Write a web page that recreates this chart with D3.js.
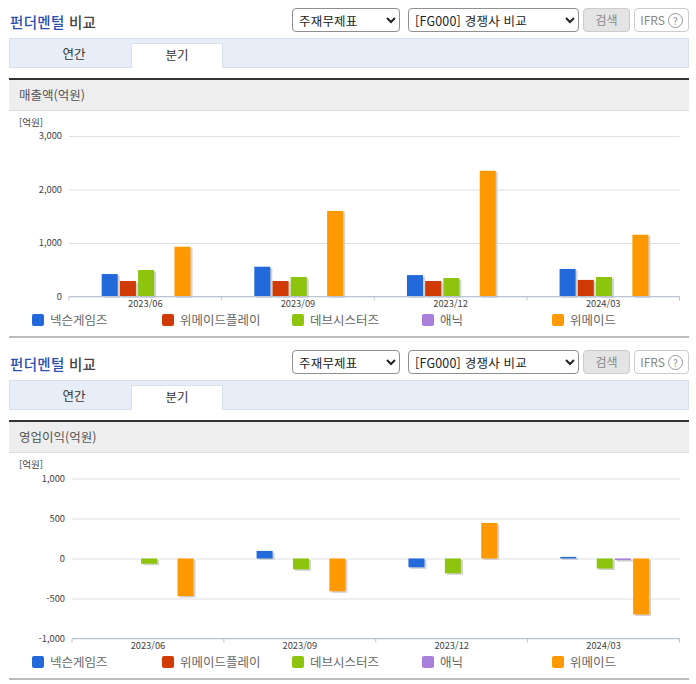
<!DOCTYPE html>
<html lang="ko">
<head>
<meta charset="utf-8" />
<title>펀더멘털 비교</title>
<script src="https://cdnjs.cloudflare.com/ajax/libs/d3/7.8.5/d3.min.js"></script>
<style>
    html, body { margin: 0; padding: 0; background: #fff; overflow: hidden; }
    body { width: 696px; height: 684px; position: relative; font-family: "Noto Sans CJK KR", sans-serif; color: #333; }
    .panel { position: absolute; left: 0; width: 696px; height: 342px; }
    .panel > * { position: absolute; box-sizing: border-box; }
    .title { left: 10px; top: 12px; font-size: 14.5px; line-height: 20px; font-weight: 500; color: #444; letter-spacing: 0.3px; }
    .title b { color: #2a50b0; font-weight: 500; }
    select { top: 8px; height: 24px; font-family: inherit; font-size: 12.5px; letter-spacing: 0.2px; color: #222; background: #fff; border: 1px solid #8f8f8f; border-radius: 4px; padding-left: 2px; }
    .btn { top: 8px; height: 24px; border: 1px solid #ccc; border-radius: 4px; font-size: 12px; line-height: 22px; text-align: center; color: #888; }
    .btn i { display: inline-block; width: 13px; height: 13px; margin-left: 3px; border: 1px solid #999; border-radius: 50%; font-style: normal; font-size: 10px; line-height: 13px; }
    .tabs { left: 9px; top: 38px; width: 680px; height: 30px; background: #e7eef8; border: 1px solid #d8e0ea; }
    .tab { top: 43px; height: 25px; font-size: 12.5px; line-height: 22px; text-align: center; color: #333; }
    .tab.on { background: #fff; border: 1px solid #d8e0ea; border-bottom: 0; }
    .head { left: 9px; top: 78px; width: 680px; height: 33px; background: #eee; border-top: 2px solid #333; border-bottom: 1px solid #ddd; font-size: 12.5px; line-height: 30px; padding-left: 10px; color: #555; }
    .foot { left: 9px; top: 336px; width: 680px; height: 2px; background: #bbb; }
    svg { left: 0; top: 0; }
    .axis text { font-family: "Noto Sans CJK KR", sans-serif; font-size: 9.3px; fill: #444; }
    .legend text { font-family: "Noto Sans CJK KR", sans-serif; font-size: 12.5px; fill: #666; }
</style>
</head>
<body>
<script>
    var categories = ["2023/06", "2023/09", "2023/12", "2024/03"];
    var seriesNames = ["넥슨게임즈", "위메이드플레이", "데브시스터즈", "애닉", "위메이드"];
    var seriesColors = ["#2269d9", "#d03a05", "#8cc40e", "#a97fdc", "#ff9900"];

    // 억원, per quarter, same order as categories
    var salesNexon = [420, 557, 400, 515];
    var salesPlay = [290, 290, 290, 310];
    var salesDev = [495, 365, 345, 365];
    var salesAnic = [null, null, null, null];
    var salesWemade = [930, 1600, 2350, 1155];

    var profitNexon = [null, 95, -110, 20];
    var profitPlay = [null, null, null, null];
    var profitDev = [-65, -135, -185, -125];
    var profitAnic = [null, null, null, -20];
    var profitWemade = [-470, -410, 445, -700];

    var salesTicks = [0, 1000, 2000, 3000];
    var profitTicks = [-1000, -500, 0, 500, 1000];
    var legendX = [32, 162, 292, 422, 552];

    function tickText(d) {
        return d3.format(",")(d).replace("−", "-");
    }

    function drawChrome(panel, label) {
        panel.append("div").attr("class", "title").html("<b>펀더멘털</b> 비교");
        panel.append("select").style("left", "292px").style("width", "108px")
            .append("option").text("주재무제표");
        panel.append("select").style("left", "408px").style("width", "171px")
            .append("option").text("[FG000] 경쟁사 비교");
        panel.append("div").attr("class", "btn").text("검색")
            .style("left", "583px").style("width", "47px").style("background", "#e4e4e4");
        panel.append("div").attr("class", "btn").html("IFRS<i>?</i>")
            .style("left", "634px").style("width", "55px");
        panel.append("div").attr("class", "tabs");
        panel.append("div").attr("class", "tab").text("연간").style("left", "29px").style("width", "90px");
        panel.append("div").attr("class", "tab on").text("분기").style("left", "131px").style("width", "92px");
        panel.append("div").attr("class", "head").text(label);
        panel.append("div").attr("class", "foot");
    }

    function drawChart(panel, values, ticks, left, right, top, bottom) {
        var svg = panel.append("svg").attr("width", 696).attr("height", 342);

        svg.append("text").attr("x", 19).attr("y", 126)
            .style("font-size", "9.5px").style("fill", "#444").text("[억원]");

        var x = d3.scaleBand().domain(categories).range([left, right]);
        var x1 = d3.scaleBand().domain(seriesNames).range([32.7, 121.5]).paddingInner(0.12);
        var y = d3.scaleLinear().domain(d3.extent(ticks)).range([bottom, top]);

        var yAxis = svg.append("g").attr("class", "axis")
            .attr("transform", "translate(" + left + ",0)")
            .call(d3.axisLeft(y).tickValues(ticks).tickFormat(tickText).tickSize(-(right - left)).tickPadding(7));
        yAxis.select(".domain").remove();
        yAxis.selectAll("line").attr("stroke", "#dcdfe4");

        seriesNames.forEach(function (name, s) {
            var rows = categories.map(function (c, i) { return { c: c, v: values[s][i] }; })
                .filter(function (r) { return r.v !== null; });
            var g = svg.append("g");
            function place(sel, dx, dy) {
                sel.attr("x", function (r) { return x(r.c) + x1(name) + dx; })
                    .attr("y", function (r) { return Math.min(y(r.v), y(0)) + dy; })
                    .attr("width", x1.bandwidth())
                    .attr("height", function (r) { return Math.abs(y(r.v) - y(0)); });
            }
            g.selectAll("rect.shadow").data(rows).enter().append("rect").attr("class", "shadow")
                .call(place, 2, 1.5).attr("fill", "#d2d2d2");
            g.selectAll("rect.bar").data(rows).enter().append("rect").attr("class", "bar")
                .call(place, 0, 0).attr("fill", seriesColors[s]);
        });

        var xAxis = svg.append("g").attr("class", "axis")
            .attr("transform", "translate(0," + bottom + ")")
            .call(d3.axisBottom(x).tickSize(0).tickPadding(4));
        xAxis.select(".domain").remove();

        var edges = categories.map(function (c) { return x(c); }).concat([right]);
        var base = svg.append("g");
        base.append("line").attr("x1", left).attr("x2", right).attr("y1", bottom).attr("y2", bottom).attr("stroke", "#b8c4d6");
        base.selectAll("line.edge").data(edges).enter().append("line").attr("class", "edge")
            .attr("x1", function (d) { return d; }).attr("x2", function (d) { return d; })
            .attr("y1", bottom).attr("y2", bottom + 4).attr("stroke", "#b8c4d6");

        var legend = svg.selectAll("g.legend").data(seriesNames).enter().append("g")
            .attr("class", "legend")
            .attr("transform", function (d, i) { return "translate(" + legendX[i] + ",314)"; });
        legend.append("rect").attr("width", 12).attr("height", 12).attr("rx", 2)
            .attr("fill", function (d, i) { return seriesColors[i]; });
        legend.append("text").attr("x", 18).attr("y", 11).text(function (d) { return d; });
    }

    var top1 = d3.select("body").append("div").attr("class", "panel").style("top", "0px");
    drawChrome(top1, "매출액(억원)");
    drawChart(top1, [salesNexon, salesPlay, salesDev, salesAnic, salesWemade], salesTicks, 69, 679.5, 136, 296.5);

    var top2 = d3.select("body").append("div").attr("class", "panel").style("top", "342px");
    drawChrome(top2, "영업이익(억원)");
    drawChart(top2, [profitNexon, profitPlay, profitDev, profitAnic, profitWemade], profitTicks, 72, 679.5, 136.5, 296.5);
</script>
</body>
</html>
